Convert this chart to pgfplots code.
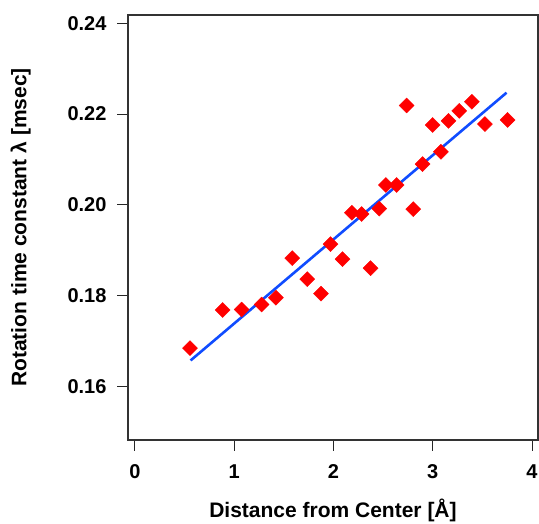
\documentclass[border=0pt]{standalone}
\usepackage{pgfplots}
\pgfplotsset{compat=1.18}
\usepackage{fontspec}
\setmainfont{Liberation Sans}
\definecolor{fitblue}{RGB}{16,76,255}
\definecolor{ptred}{RGB}{255,0,0}
\begin{document}
\begin{tikzpicture}
\useasboundingbox (0,0) rectangle (539bp,524bp);
\begin{axis}[
  at={(128bp,84bp)}, anchor=south west,
  scale only axis, width=410bp, height=425bp,
  xmin=-0.0705, xmax=4.06,
  ymin=0.1483, ymax=0.2418,
  xtick={0,1,2,3,4},
  ytick={0.16,0.18,0.20,0.22,0.24},
  tick pos=left, tick align=outside,
  major tick length=11bp,
  axis line style={black!80, line width=1.1bp},
  every tick/.style={black!85, line width=1bp},
  /pgf/number format/assume math mode=true,
  yticklabel style={/pgf/number format/fixed, /pgf/number format/fixed zerofill, /pgf/number format/precision=2, font=\fontsize{20bp}{23bp}\selectfont\bfseries, xshift=-7bp},
  xticklabel style={font=\fontsize{20bp}{23bp}\selectfont\bfseries, yshift=-10bp},
  scaled y ticks=false,
  xlabel={Distance from Center [Å]},
  ylabel={Rotation time constant λ [msec]},
  xlabel style={font=\fontsize{21bp}{24bp}\selectfont\bfseries, yshift=-13bp},
  ylabel style={font=\fontsize{21bp}{24bp}\selectfont\bfseries, yshift=30bp},
  clip=false,
]
\addplot[fitblue, line width=2.6bp] coordinates {(0.56,0.1658) (3.743,0.2247)};
\addplot[only marks, mark=square*, mark size=5.3bp, mark options={rotate=45, fill=ptred, draw=ptred}] coordinates {
(0.554,0.1685) (0.883,0.1769) (1.074,0.1770) (1.276,0.1781) (1.420,0.1796)
(1.584,0.1883) (1.735,0.1837) (1.873,0.1805) (1.970,0.1914) (2.091,0.1881)
(2.185,0.1983) (2.283,0.1980) (2.373,0.1861) (2.461,0.1992) (2.528,0.2044)
(2.635,0.2044) (2.736,0.2219) (2.803,0.1991) (2.897,0.2090) (2.998,0.2176)
(3.082,0.2117) (3.159,0.2185) (3.266,0.2207) (3.394,0.2227) (3.525,0.2178)
(3.753,0.2187)
};
\end{axis}
\end{tikzpicture}
\end{document}
